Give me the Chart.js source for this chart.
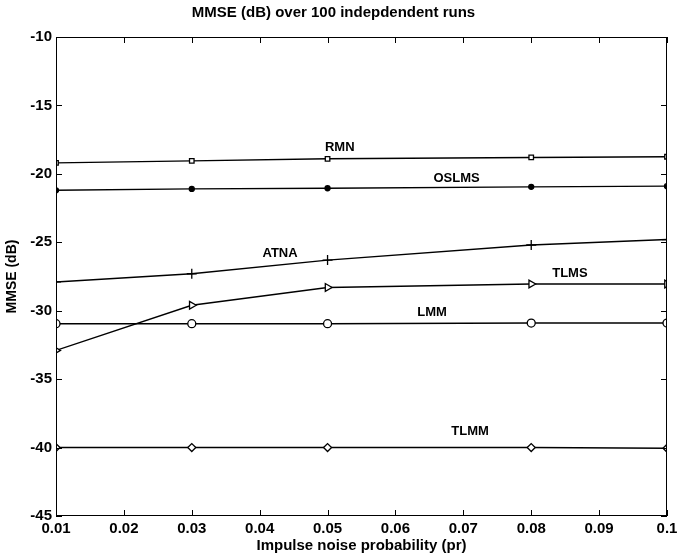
<!DOCTYPE html>
<html>
<head>
<meta charset="utf-8">
<script src="https://cdn.jsdelivr.net/npm/chart.js@4/dist/chart.umd.min.js"></script>
<style>
  html, body { margin: 0; padding: 0; background: #fff; }
  #wrap { width: 686px; height: 553px; }
</style>
</head>
<body>
<div id="wrap"><canvas id="myChart"></canvas></div>
<script>
// impulse noise probability (x values)
const probs = [0.01, 0.03, 0.05, 0.08, 0.1];

// MMSE in dB for each algorithm
const rmn   = [-19.2, -19.05, -18.9, -18.8, -18.75];
const oslms = [-21.2, -21.1, -21.05, -20.95, -20.9];
const atna  = [-27.9, -27.3, -26.3, -25.2, -24.8];
const tlms  = [-32.9, -29.6, -28.3, -28.05, -28.05];
const lmm   = [-30.95, -30.95, -30.95, -30.9, -30.9];
const tlmm  = [-40, -40, -40, -40, -40.05];

const seriesNames = ['RMN', 'OSLMS', 'ATNA', 'TLMS', 'LMM', 'TLMM'];

// where the curve names sit, in data units [x, y]
const labelAt = [[0.0518, -18.1], [0.069, -20.35], [0.043, -25.8], [0.0857, -27.3], [0.0654, -30.1], [0.071, -38.8]];

const FONT = 'Liberation Sans, Arial, Helvetica, sans-serif';

function pts(ys) {
    return probs.map((p, i) => ({ x: p, y: ys[i] }));
}

function line(label, ys, style, extra) {
    return Object.assign({
        label: label,
        data: pts(ys),
        showLine: true,
        borderColor: '#000',
        borderWidth: 1.4,
        pointStyle: style,
        pointRadius: 3.5,
        pointBorderColor: '#000',
        pointBorderWidth: 1.3,
        pointBackgroundColor: '#fff'
    }, extra || {});
}

// box around the plot with inward tick marks on all four sides, plus curve names
const boxTicks = {
    id: 'boxTicks',
    afterDatasetsDraw(chart) {
        const c = chart.ctx;
        const a = chart.chartArea;
        const xs = chart.scales.x, ys = chart.scales.y;
        c.save();
        c.strokeStyle = '#000';
        c.lineWidth = 1;
        c.strokeRect(a.left + 0.5, a.top + 0.5, a.right - a.left - 1, a.bottom - a.top - 1);
        const len = 6;
        xs.ticks.forEach(t => {
            const px = Math.round(xs.getPixelForValue(t.value)) + 0.5;
            c.beginPath();
            c.moveTo(px, a.bottom); c.lineTo(px, a.bottom - len);
            c.moveTo(px, a.top); c.lineTo(px, a.top + len);
            c.stroke();
        });
        ys.ticks.forEach(t => {
            const py = Math.round(ys.getPixelForValue(t.value)) + 0.5;
            c.beginPath();
            c.moveTo(a.left, py); c.lineTo(a.left + len, py);
            c.moveTo(a.right, py); c.lineTo(a.right - len, py);
            c.stroke();
        });
        c.fillStyle = '#000';
        c.font = 'bold 13px ' + FONT;
        c.textAlign = 'center';
        c.textBaseline = 'middle';
        seriesNames.forEach((n, i) => {
            c.fillText(n, xs.getPixelForValue(labelAt[i][0]), ys.getPixelForValue(labelAt[i][1]));
        });
        c.restore();
    }
};

const ctx = document.getElementById('myChart').getContext('2d');
new Chart(ctx, {
    type: 'scatter',
    data: {
        datasets: [
            line('RMN', rmn, 'rect', { pointRadius: 3.2 }),
            line('OSLMS', oslms, 'circle', { pointRadius: 2.5, pointBackgroundColor: '#000' }),
            line('ATNA', atna, 'cross', { pointRadius: 5 }),
            line('TLMS', tlms, 'triangle', { pointRotation: 90, pointRadius: 4.5 }),
            line('LMM', lmm, 'circle', { pointRadius: 4 }),
            line('TLMM', tlmm, 'rectRot', { pointRadius: 4 })
        ]
    },
    options: {
        responsive: true,
        maintainAspectRatio: false,
        animation: false,
        layout: { padding: { left: 0, right: 19, top: 0, bottom: 0 } },
        scales: {
            x: {
                type: 'linear',
                min: 0.01,
                max: 0.1,
                border: { display: false },
                grid: { display: false, drawTicks: false },
                ticks: {
                    stepSize: 0.01,
                    padding: 5,
                    color: '#000',
                    maxRotation: 0,
                    font: { family: FONT, size: 15, weight: 'bold', lineHeight: 1 },
                    callback: v => String(Number(v.toFixed(2)))
                },
                title: {
                    display: true,
                    text: 'Impulse noise probability (pr)',
                    color: '#000',
                    padding: { top: 0, bottom: 0 },
                    font: { family: FONT, size: 15, weight: 'bold', lineHeight: 1 }
                },
                afterFit: s => { s.height = 37; }
            },
            y: {
                min: -45,
                max: -10,
                border: { display: false },
                grid: { display: false, drawTicks: false },
                ticks: {
                    stepSize: 5,
                    padding: 4,
                    color: '#000',
                    font: { family: FONT, size: 15, weight: 'bold' }
                },
                title: {
                    display: true,
                    text: 'MMSE (dB)',
                    color: '#000',
                    padding: { top: 5, bottom: 2 },
                    font: { family: FONT, size: 14, weight: 'bold', lineHeight: 1 }
                },
                afterFit: s => { s.width = 56; }
            }
        },
        plugins: {
            legend: { display: false },
            tooltip: { enabled: false },
            title: {
                display: true,
                text: 'MMSE (dB) over 100 indepdendent runs',
                color: '#000',
                padding: { top: 4, bottom: 15 },
                font: { family: FONT, size: 15, weight: 'bold' }
            }
        }
    },
    plugins: [boxTicks]
});
</script>
</body>
</html>
